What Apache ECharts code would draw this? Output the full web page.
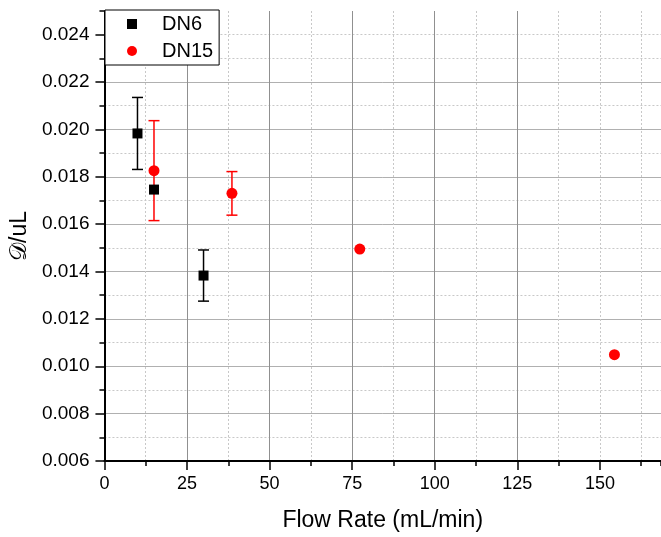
<!DOCTYPE html>
<html><head><meta charset="utf-8">
<script src="https://cdn.jsdelivr.net/npm/echarts@6/dist/echarts.min.js"></script>
<style>html,body{margin:0;padding:0;background:#fff}#c{width:661px;height:537px}</style>
</head><body><div id="c"></div>
<script>
const dn6X = [10, 15, 30];
const dn6Y = [0.01983, 0.01746, 0.01383];
const dn6Err = [0.00152, null, 0.00108];
const dn15X = [15, 38.6, 77.3, 154.4];
const dn15Y = [0.01826, 0.01730, 0.01495, 0.01049];
const dn15Err = [0.00211, 0.00092, null, null];
const xTicks = [0, 25, 50, 75, 100, 125, 150];
const yTicks = [0.006, 0.008, 0.010, 0.012, 0.014, 0.016, 0.018, 0.020, 0.022, 0.024];
const seriesNames = ['DN6', 'DN15'];
const xTitle = 'Flow Rate (mL/min)';
const yTitle = '\u{1D49F}/uL';

const FONT = '"Liberation Sans", Arial, sans-serif';
const X_MIN = 0, X_MAX = 168.5, Y_MIN = 0.006, Y_MAX = 0.025;

function errRender(color) {
  return function (params, api) {
    const x = api.value(0), y = api.value(1), e = api.value(2);
    if (!(e > 0)) return null;
    const t = api.coord([x, y + e]);
    const b = api.coord([x, y - e]);
    const hw = 5.5;
    const st = { stroke: color, lineWidth: 1.5 };
    return { type: 'group', children: [
      { type: 'line', shape: { x1: t[0], y1: t[1], x2: b[0], y2: b[1] }, style: st },
      { type: 'line', shape: { x1: t[0] - hw, y1: t[1], x2: t[0] + hw, y2: t[1] }, style: st },
      { type: 'line', shape: { x1: b[0] - hw, y1: b[1], x2: b[0] + hw, y2: b[1] }, style: st }
    ]};
  };
}

const chart = echarts.init(document.getElementById('c'), null, { renderer: 'canvas' });
chart.setOption({
  animation: false,
  backgroundColor: '#fff',
  grid: { left: 104, right: 0, top: 11, bottom: 74, containLabel: false },
  xAxis: [
    { type: 'value', position: 'bottom', min: X_MIN, max: X_MAX, interval: 12.5,
      axisLine: { show: false }, axisLabel: { show: false },
      axisTick: { show: true, length: 5, lineStyle: { color: '#000', width: 1.5 } },
      splitLine: { show: true, showMinLine: false, showMaxLine: false, lineStyle: { color: '#c8c8c8', type: [2, 2], width: 1 } } },
    { type: 'value', position: 'bottom', min: X_MIN, max: X_MAX, interval: 25,
      name: xTitle, nameLocation: 'middle', nameGap: 48,
      nameTextStyle: { fontFamily: FONT, fontSize: 23, color: '#000' },
      axisLine: { show: true, onZero: false, lineStyle: { color: '#000', width: 2 } },
      axisTick: { show: true, length: 9, customValues: xTicks, lineStyle: { color: '#000', width: 1.5 } },
      axisLabel: { show: true, customValues: xTicks, margin: 14, fontFamily: FONT, fontSize: 18, color: '#000', formatter: v => String(v) },
      splitLine: { show: true, showMinLine: false, showMaxLine: false, lineStyle: { color: '#909090', width: 1 } } }
  ],
  yAxis: [
    { type: 'value', position: 'left', min: Y_MIN, max: Y_MAX, interval: 0.001,
      axisLine: { show: false }, axisLabel: { show: false },
      axisTick: { show: true, length: 5, lineStyle: { color: '#000', width: 1.5 } },
      splitLine: { show: true, showMinLine: false, showMaxLine: false, lineStyle: { color: '#c8c8c8', type: [2, 2], width: 1 } } },
    { type: 'value', position: 'left', min: Y_MIN, max: Y_MAX, interval: 0.002,
      name: yTitle, nameLocation: 'middle', nameGap: 72, nameRotate: 90,
      nameTextStyle: { fontFamily: FONT, fontSize: 23, color: '#000' },
      axisLine: { show: true, onZero: false, lineStyle: { color: '#000', width: 2 } },
      axisTick: { show: true, length: 9, customValues: yTicks, lineStyle: { color: '#000', width: 1.5 } },
      axisLabel: { show: true, customValues: yTicks, margin: 15, fontFamily: FONT, fontSize: 19, color: '#000', formatter: v => v.toFixed(3) },
      splitLine: { show: true, showMinLine: false, showMaxLine: false, lineStyle: { color: '#b0b0b0', width: 1 } } }
  ],
  legend: {
    orient: 'vertical', left: 105, top: 10, padding: [4, 6, 4, 22], itemGap: 7,
    itemWidth: 10, itemHeight: 10, borderColor: '#000', borderWidth: 1, borderRadius: 0,
    backgroundColor: '#fff',
    textStyle: { fontFamily: FONT, fontSize: 20, color: '#000', lineHeight: 20, padding: [0, 0, 0, 20] },
    data: [{ name: seriesNames[0], icon: 'rect' }, { name: seriesNames[1], icon: 'circle' }]
  },
  series: [
    { type: 'custom', name: seriesNames[0] + ' err', xAxisIndex: 1, yAxisIndex: 1,
      renderItem: errRender('#000'), data: dn6X.map((x, i) => [x, dn6Y[i], dn6Err[i] == null ? 0 : dn6Err[i]]), silent: true },
    { type: 'scatter', name: seriesNames[0], xAxisIndex: 1, yAxisIndex: 1, symbol: 'rect', symbolSize: 10,
      itemStyle: { color: '#000', opacity: 1 }, data: dn6X.map((x, i) => [x, dn6Y[i]]) },
    { type: 'custom', name: seriesNames[1] + ' err', xAxisIndex: 1, yAxisIndex: 1,
      renderItem: errRender('#f00'), data: dn15X.map((x, i) => [x, dn15Y[i], dn15Err[i] == null ? 0 : dn15Err[i]]), silent: true },
    { type: 'scatter', name: seriesNames[1], xAxisIndex: 1, yAxisIndex: 1, symbol: 'circle', symbolSize: 11,
      itemStyle: { color: '#f00', opacity: 1 }, data: dn15X.map((x, i) => [x, dn15Y[i]]) }
  ]
});
</script></body></html>
